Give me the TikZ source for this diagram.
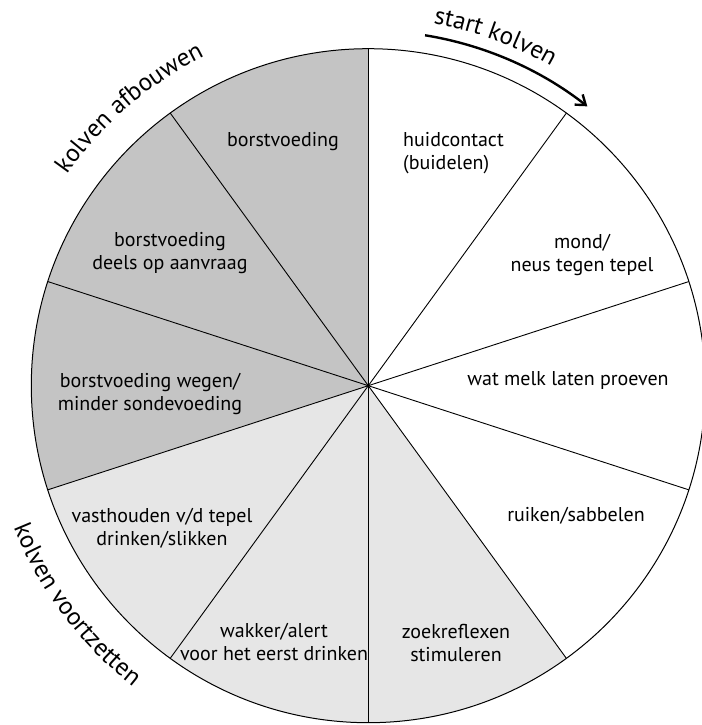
\documentclass[tikz,border=0pt]{standalone}
\usepackage{fontspec}
\setmainfont{PT Sans}
\usetikzlibrary{decorations.text,arrows.meta}
\definecolor{darkseg}{HTML}{C4C4C4}
\definecolor{lightseg}{HTML}{E6E6E6}
\newcommand\outerfont{\fontsize{25}{30}\selectfont}
\tikzset{
  lbl/.style={align=center, inner sep=0pt, font=\fontsize{20}{23}\selectfont},
  spoke/.style={line width=0.9pt},
  rim/.style={line width=1pt},
  arclabel/.style={decorate, decoration={text along path, text align=center, text={|\outerfont|#1}}}
}
\begin{document}
\begin{tikzpicture}[x=1pt,y=1pt]
\useasboundingbox (-368.3,-339.3) rectangle (332.7,385.7);
\def\R{337}
\foreach \a/\c in {90/darkseg,126/darkseg,162/darkseg,198/lightseg,234/lightseg,270/lightseg}{
  \fill[\c] (0,0) -- (\a:\R) arc[start angle=\a, delta angle=36, radius=\R] -- cycle;
}
\foreach \a in {90,54,18,-18,-54,-90,-126,-162,162,126}{
  \draw[spoke] (0,0) -- (\a:\R);
}
\draw[rim] (0,0) circle[radius=\R];
\fill (0,0) circle[radius=1.6];
\coordinate (c) at (0,0);

\node[lbl] (l1) at (-85.3,243.7) {borstvoeding};
\node[lbl] (l2) at (-198.3,132.7) {borstvoeding\\deels op aanvraag};
\node[lbl] (l3) at (-218.3,-8.3) {borstvoeding wegen/\\minder sondevoeding};
\node[lbl] (l4) at (-206.3,-142.3) {vasthouden v/d tepel\\drinken/slikken};
\node[lbl] (l5) at (-94.3,-256.3) {wakker/alert\\voor het eerst drinken};
\node[lbl] (l6) at (87.7,-257.3) {zoekreflexen\\stimuleren};
\node[lbl] (l7) at (207.7,-130.3) {ruiken/sabbelen};
\node[lbl] (l8) at (199.7,5.7) {wat melk laten proeven};
\node[lbl] (l9) at (213.7,130.7) {mond/\\neus tegen tepel};
\node[lbl, align=left, anchor=west] (l10) at (34.7,232.7) {huidcontact\\(buidelen)};

\draw[line width=2.4pt, -{Straight Barb[length=9pt,width=13pt,line width=2.4pt]}] (80.8:355) arc[start angle=80.8, end angle=51.9, radius=355];

\path[arclabel={start kolven}] (95:368) arc[start angle=95, end angle=45, radius=368];
\path[arclabel={kolven afbouwen}] (160.7:368) arc[start angle=160.7, end angle=100.7, radius=368];
\path[arclabel={kolven voortzetten}] (186.9:382) arc[start angle=186.9, end angle=246.9, radius=382];
\end{tikzpicture}
\end{document}
